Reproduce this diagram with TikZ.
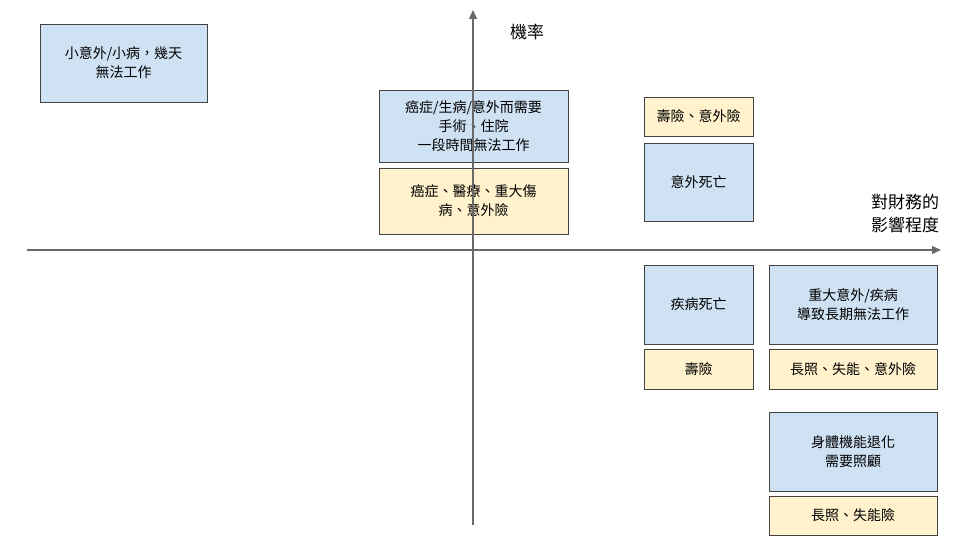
\documentclass[tikz,border=0pt]{standalone}
\usepackage{fontspec}
\setmainfont{Noto Sans CJK TC}
\usetikzlibrary{arrows.meta}
\definecolor{bluef}{HTML}{CFE2F3}
\definecolor{yelf}{HTML}{FFF2CC}
\definecolor{edge}{HTML}{434343}
\tikzset{
 bx/.style={draw=edge,line width=0.8pt,align=center,font=\fontsize{14}{19}\selectfont,inner sep=0pt},
 bl/.style={bx,fill=bluef},
 yl/.style={bx,fill=yelf},
 ax/.style={draw=edge!80,line width=1.2pt,-{Triangle[length=9pt,width=8pt]}}
}
\newcommand{\bxat}[6]{\node[#1,minimum width=#4-#2,minimum height=#5-#3] (#6) at ({(#2+#4)/2},{(#3+#5)/2})}
\begin{document}
\begin{tikzpicture}[x=1pt,y=-1pt]
\useasboundingbox (0,0) rectangle (960,540);
\bxat{bl}{40}{24}{207}{102}{a} {小意外/小病，幾天\\無法工作};
\bxat{bl}{379}{90}{568}{162}{b} {癌症/生病/意外而需要\\手術、住院\\一段時間無法工作};
\bxat{yl}{379}{168}{568}{234}{c} {癌症、醫療、重大傷\\病、意外險};
\bxat{yl}{644}{97}{753}{136}{d} {壽險、意外險};
\bxat{bl}{644}{143}{753}{221}{e} {意外死亡};
\bxat{bl}{644}{265}{753}{344}{f} {疾病死亡};
\bxat{yl}{644}{349}{753}{389}{g} {壽險};
\bxat{bl}{769}{265}{937}{344}{h} {重大意外/疾病\\導致長期無法工作};
\bxat{yl}{769}{349}{937}{389}{i} {長照、失能、意外險};
\bxat{bl}{769}{412}{937}{491}{j} {身體機能退化\\需要照顧};
\bxat{yl}{769}{496}{937}{535}{k} {長照、失能險};
\coordinate (xs) at (27,250); \coordinate (xe) at (941,250);
\coordinate (ys) at (473,525); \coordinate (ye) at (473,10);
\draw[ax] (xs) -- (xe);
\draw[ax] (ys) -- (ye);
\node[font=\fontsize{17}{22}\selectfont] (yl) at (527,32) {機率};
\node[font=\fontsize{17}{23}\selectfont,align=center] (xl) at (905,214) {對財務的\\影響程度};
\end{tikzpicture}
\end{document}
